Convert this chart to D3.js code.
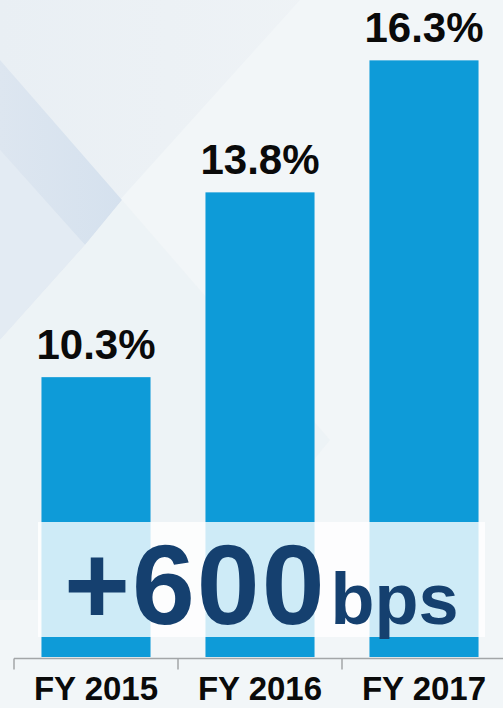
<!DOCTYPE html>
<html>
<head>
<meta charset="utf-8">
<script src="https://cdn.jsdelivr.net/npm/d3@7"></script>
<style>
  html, body { margin: 0; padding: 0; background: #eef3f6; }
  svg { display: block; }
  text { font-family: "Liberation Sans", Arial, sans-serif; }
</style>
</head>
<body>
<svg id="chart" width="503" height="708"></svg>
<script>
// Fiscal years and margin values (%)
const categories = ["FY 2015", "FY 2016", "FY 2017"];
const values = [10.3, 13.8, 16.3];
const valueLabels = ["10.3%", "13.8%", "16.3%"];
const highlightNumber = "+600";
const highlightUnit = "bps";

const W = 503, H = 708;
const svg = d3.select("#chart");

// ---- background decoration ----
const defs = svg.append("defs");
const bgGrad = defs.append("linearGradient").attr("id", "bg").attr("x1", 0).attr("x2", 1).attr("y1", 0).attr("y2", 0);
bgGrad.append("stop").attr("offset", 0).attr("stop-color", "#e9eff4");
bgGrad.append("stop").attr("offset", 1).attr("stop-color", "#f2f5f7");
const bandGrad = defs.append("linearGradient").attr("id", "band").attr("x1", 0).attr("x2", 1).attr("y1", 0).attr("y2", 0);
bandGrad.append("stop").attr("offset", 0).attr("stop-color", "#dde6f0");
bandGrad.append("stop").attr("offset", 1).attr("stop-color", "#d5e1ee");

svg.append("rect").attr("width", W).attr("height", H).attr("fill", "url(#bg)");
const deco = svg.append("g");
// lighter field to the right of the large diagonal
deco.append("polygon").attr("points", "300,0 503,0 503,708 0,708 0,333").attr("fill", "#f2f6f8");
// lower-left bluish wedge
deco.append("polygon").attr("points", "0,150 85,245 0,340").attr("fill", "#e3ebf3");
// darker diagonal strip
deco.append("polygon").attr("points", "0,60 122,200 85,245 0,150").attr("fill", "url(#band)");
// faint crossing facet below the strip
deco.append("polygon").attr("points", "122,200 330,440 200,600 0,600 0,340 85,245").attr("fill", "#e9f0f4").attr("opacity", 0.55);

// ---- scales ----
const x = d3.scaleBand().domain(categories).range([14, 506]).paddingInner(0.335).paddingOuter(0.1675);
const y = d3.scaleLinear().domain([5, 17]).range([657, 23.4]);

const data = categories.map((c, i) => ({ cat: c, value: values[i], label: valueLabels[i] }));

// ---- bars ----
svg.append("g").selectAll("rect").data(data).join("rect")
  .attr("x", d => x(d.cat))
  .attr("y", d => y(d.value))
  .attr("width", x.bandwidth())
  .attr("height", d => y(5) - y(d.value))
  .attr("fill", "#0e9bd8");

// ---- value labels ----
svg.append("g").selectAll("text").data(data).join("text")
  .attr("x", d => x(d.cat) + x.bandwidth() / 2)
  .attr("y", d => y(d.value) - 18.5)
  .attr("text-anchor", "middle")
  .attr("font-size", 42)
  .attr("font-weight", 700)
  .attr("fill", "#0a0a0a")
  .text(d => d.label);

// ---- axis ----
const axisY = 658.5;
const step = x.step();
const x0 = x.range()[0];
const axis = svg.append("g").attr("stroke", "#a3a6a8").attr("stroke-width", 1.5);
axis.append("line").attr("x1", x0).attr("x2", W).attr("y1", axisY).attr("y2", axisY);
axis.selectAll("line.tick").data(d3.range(categories.length + 1)).join("line")
  .attr("class", "tick")
  .attr("x1", i => x0 + i * step).attr("x2", i => x0 + i * step)
  .attr("y1", axisY).attr("y2", axisY + 11);

svg.append("g").selectAll("text").data(categories).join("text")
  .attr("x", d => x(d) + x.bandwidth() / 2)
  .attr("y", 700)
  .attr("text-anchor", "middle")
  .attr("font-size", 33)
  .attr("font-weight", 700)
  .attr("fill", "#0a0a0a")
  .text(d => d);

// ---- highlight strip with growth callout ----
svg.append("rect")
  .attr("x", 38).attr("y", 522).attr("width", 447).attr("height", 115)
  .attr("fill", "#ffffff").attr("opacity", 0.8);

const callout = svg.append("text")
  .attr("x", 64).attr("y", 624)
  .attr("fill", "#15406f")
  .attr("font-weight", 700);
callout.append("tspan").attr("font-size", 113).attr("letter-spacing", 2).text(highlightNumber);
callout.append("tspan").attr("font-size", 72).attr("dx", 4).text(highlightUnit);
</script>
</body>
</html>
